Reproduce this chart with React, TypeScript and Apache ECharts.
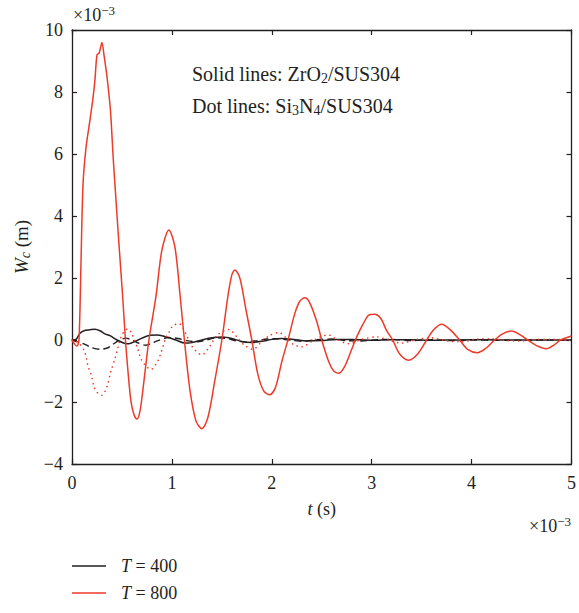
import React, { useEffect, useRef } from "react";
import * as echarts from "echarts";

// Central deflection W_c (×10⁻³ m) against time t (×10⁻³ s)

// T = 400, ZrO2/SUS304 (solid black)
const t400Zr = [0, 0.04, 0.08, 0.12, 0.18, 0.23, 0.28, 0.33, 0.38, 0.45, 0.53, 0.57, 0.63, 0.7, 0.78, 0.85, 0.92, 1.04, 1.13, 1.2, 1.3, 1.4, 1.51, 1.6, 1.7, 1.8, 1.92, 2.0, 2.1, 2.22, 2.35, 2.5, 2.65, 2.8, 3.0, 3.2, 3.4, 3.6, 3.8, 4.0, 4.3, 4.6, 5.0];
const w400Zr = [0, 0.02, 0.22, 0.3, 0.33, 0.35, 0.3, 0.2, 0.14, 0.0, -0.11, -0.12, -0.05, 0.06, 0.15, 0.16, 0.12, 0.0, -0.1, -0.08, 0.0, 0.07, 0.1, 0.05, -0.05, -0.08, -0.03, 0.02, 0.05, 0.02, -0.03, -0.02, 0.02, 0.02, -0.01, 0.01, 0.01, -0.01, 0.0, 0.01, 0.0, 0.0, 0.0];

// T = 400, Si3N4/SUS304 (dashed black)
const t400Si = [0, 0.05, 0.13, 0.2, 0.28, 0.36, 0.41, 0.48, 0.54, 0.6, 0.65, 0.74, 0.8, 0.86, 0.97, 1.06, 1.15, 1.25, 1.35, 1.45, 1.55, 1.65, 1.75, 1.85, 1.95, 2.05, 2.2, 2.3, 2.45, 2.6, 2.75, 2.9, 3.05, 3.2, 3.4, 3.6, 3.8, 4.0, 4.3, 4.6, 5.0];
const w400Si = [0, -0.05, -0.14, -0.25, -0.3, -0.25, -0.14, 0.0, 0.06, 0.0, -0.08, -0.17, -0.1, -0.02, 0.08, 0.05, -0.02, -0.06, 0.0, 0.07, 0.05, -0.03, -0.06, -0.02, 0.03, 0.04, -0.01, -0.04, 0.01, 0.03, -0.02, -0.03, 0.01, 0.02, -0.02, 0.01, -0.02, 0.0, -0.01, 0.0, 0.0];

// T = 800, ZrO2/SUS304 (solid red)
const t800Zr = [0, 0.03, 0.05, 0.07, 0.09, 0.11, 0.14, 0.18, 0.21, 0.23, 0.25, 0.27, 0.28, 0.3, 0.32, 0.35, 0.385, 0.41, 0.43, 0.47, 0.51, 0.535, 0.56, 0.59, 0.62, 0.65, 0.68, 0.71, 0.77, 0.84, 0.9, 0.97, 1.03, 1.08, 1.125, 1.18, 1.24, 1.3, 1.36, 1.43, 1.5, 1.56, 1.6, 1.63, 1.68, 1.74, 1.8, 1.86, 1.92, 1.98, 2.04, 2.1, 2.17, 2.23, 2.28, 2.33, 2.38, 2.45, 2.5, 2.57, 2.62, 2.67, 2.73, 2.8, 2.85, 2.92, 2.97, 3.03, 3.09, 3.15, 3.21, 3.28, 3.37, 3.46, 3.55, 3.62, 3.7, 3.79, 3.88, 3.96, 4.06, 4.15, 4.23, 4.31, 4.4, 4.49, 4.56, 4.65, 4.75, 4.83, 4.89, 5.0];
const w800Zr = [0, -0.15, -0.2, 0, 2.5, 5.0, 6.2, 7.1, 7.8, 8.4, 9.2, 9.25, 9.35, 9.6, 9.2, 8.5, 7.4, 6.0, 5.0, 3.1, 1.26, 0, -1.0, -1.97, -2.4, -2.55, -2.3, -1.6, 0, 1.4, 2.9, 3.55, 3.0, 1.5, 0, -1.6, -2.6, -2.86, -2.5, -1.3, 0, 1.4, 2.1, 2.26, 2.0, 1.0, 0, -1.1, -1.65, -1.77, -1.5, -0.7, 0.1, 0.85, 1.25, 1.36, 1.2, 0.6, 0.0, -0.7, -1.0, -1.07, -0.85, -0.3, 0.1, 0.55, 0.8, 0.83, 0.7, 0.3, 0, -0.45, -0.65, -0.45, 0, 0.33, 0.51, 0.32, 0, -0.3, -0.41, -0.25, 0, 0.2, 0.29, 0.16, 0, -0.18, -0.28, -0.15, 0, 0.13];

// T = 800, Si3N4/SUS304 (dotted red)
const t800Si = [0, 0.07, 0.13, 0.16, 0.19, 0.22, 0.25, 0.3, 0.35, 0.39, 0.43, 0.46, 0.48, 0.51, 0.56, 0.6, 0.66, 0.69, 0.73, 0.79, 0.86, 0.89, 0.94, 0.98, 1.01, 1.07, 1.14, 1.2, 1.3, 1.38, 1.45, 1.57, 1.65, 1.72, 1.81, 1.9, 1.98, 2.07, 2.15, 2.22, 2.3, 2.4, 2.5, 2.57, 2.65, 2.77, 2.9, 3.05, 3.18, 3.3, 3.45, 3.6, 3.75, 3.9, 4.05, 4.2, 4.35, 4.5, 4.65, 4.8, 5.0];
const w800Si = [0, -0.1, -0.41, -0.84, -1.1, -1.5, -1.68, -1.78, -1.5, -1.0, -0.6, -0.25, 0, 0.22, 0.36, 0.2, -0.3, -0.6, -0.8, -0.95, -0.67, -0.42, 0.08, 0.3, 0.46, 0.53, 0.2, -0.2, -0.48, -0.2, 0.15, 0.34, 0.1, -0.15, -0.3, -0.05, 0.15, 0.24, 0.05, -0.15, -0.22, -0.05, 0.12, 0.16, 0.02, -0.12, 0.02, 0.1, -0.02, -0.1, 0.02, 0.07, -0.03, -0.06, 0.03, 0.04, -0.02, -0.03, 0.02, 0.02, -0.01];

const xTicks = [0, 5, 1];
const yTicks = [-4, 10, 2];

const RED = "#ee3a28";
const BLACK = "#231f20";
const SERIF = "'Liberation Serif', 'DejaVu Serif', serif";

const pairs = (t: number[], w: number[]) => t.map((v, i) => [v, w[i]]);
const minusSign = (v: number) => String(v).replace("-", "\u2212");

export default function App() {
  const ref = useRef<HTMLDivElement>(null);

  useEffect(() => {
    if (!ref.current) return;
    const chart = echarts.init(ref.current, null, { renderer: "svg" });

    const axisLine = { show: true, onZero: false, lineStyle: { color: BLACK, width: 1.3 } };
    const axisTick = { show: true, inside: true, length: 5, lineStyle: { color: BLACK, width: 1.2 } };
    const labelStyle = { color: BLACK, fontFamily: SERIF, fontSize: 18 };

    const multiplier = (x: number, y: number) => ({
      type: "text",
      x,
      y,
      style: {
        text: "{a|\u00d710}{s|\u22123}",
        fill: BLACK,
        rich: {
          a: { fontFamily: SERIF, fontSize: 18, fill: BLACK },
          s: { fontFamily: SERIF, fontSize: 13, fill: BLACK, padding: [0, 0, 9, 0] },
        },
      },
    });

    const noteRich = {
      a: { fontFamily: SERIF, fontSize: 20, fill: BLACK },
      s: { fontFamily: SERIF, fontSize: 14, fill: BLACK, padding: [9, 0, 0, 0] },
    };

    chart.setOption({
      animation: false,
      backgroundColor: "#ffffff",
      grid: { left: 72, right: 4, top: 30, bottom: 149 },
      legend: {
        data: ["T = 400", "T = 800"],
        orient: "vertical",
        left: 72,
        top: 557,
        padding: 0,
        itemGap: 9,
        itemWidth: 34,
        itemHeight: 1.4,
        icon: "rect",
        formatter: (name: string) => "{i|T}" + name.slice(1),
        textStyle: {
          color: BLACK,
          fontFamily: SERIF,
          fontSize: 18,
          padding: [0, 0, 0, 10],
          rich: {
            i: { fontStyle: "italic", fontFamily: SERIF, fontSize: 18, color: BLACK },
          },
        },
      },
      xAxis: [
        {
          type: "value",
          min: xTicks[0],
          max: xTicks[1],
          interval: xTicks[2],
          position: "bottom",
          axisLine,
          axisTick,
          splitLine: { show: false },
          axisLabel: { ...labelStyle, margin: 10 },
          name: "{i|t} (s)",
          nameLocation: "middle",
          nameGap: 36,
          nameTextStyle: {
            ...labelStyle,
            rich: { i: { fontStyle: "italic", fontFamily: SERIF, fontSize: 18, color: BLACK } },
          },
        },
        {
          type: "value",
          min: xTicks[0],
          max: xTicks[1],
          interval: xTicks[2],
          position: "top",
          axisLine,
          axisTick,
          splitLine: { show: false },
          axisLabel: { show: false },
        },
      ],
      yAxis: [
        {
          type: "value",
          min: yTicks[0],
          max: yTicks[1],
          interval: yTicks[2],
          position: "left",
          axisLine,
          axisTick,
          splitLine: { show: false },
          axisLabel: { ...labelStyle, margin: 9, formatter: minusSign },
          name: "{w|W}{c|c}{n| (m)}",
          nameLocation: "middle",
          nameRotate: 90,
          nameGap: 36,
          nameTextStyle: {
            ...labelStyle,
            rich: {
              w: { fontStyle: "italic", fontFamily: SERIF, fontSize: 19, color: BLACK },
              c: { fontStyle: "italic", fontFamily: SERIF, fontSize: 14, color: BLACK, padding: [8, 0, 0, 0] },
              n: { fontFamily: SERIF, fontSize: 19, color: BLACK },
            },
          },
        },
        {
          type: "value",
          min: yTicks[0],
          max: yTicks[1],
          interval: yTicks[2],
          position: "right",
          axisLine,
          axisTick,
          splitLine: { show: false },
          axisLabel: { show: false },
        },
      ],
      graphic: [
        multiplier(73, 4),
        multiplier(529, 515),
        {
          type: "text",
          x: 192,
          y: 62,
          style: { text: "{a|Solid lines: ZrO}{s|2}{a|/SUS304}", rich: noteRich },
        },
        {
          type: "text",
          x: 192,
          y: 94,
          style: { text: "{a|Dot lines: Si}{s|3}{a|N}{s|4}{a|/SUS304}", rich: noteRich },
        },
      ],
      series: [
        {
          name: "T = 400 Si",
          type: "line",
          data: pairs(t400Si, w400Si),
          showSymbol: false,
          smooth: 0.3,
          color: BLACK,
          lineStyle: { color: BLACK, width: 1.4, type: [7, 4] },
        },
        {
          name: "T = 400",
          type: "line",
          data: pairs(t400Zr, w400Zr),
          showSymbol: false,
          smooth: 0.3,
          color: BLACK,
          lineStyle: { color: BLACK, width: 1.5 },
        },
        {
          name: "T = 800 Si",
          type: "line",
          data: pairs(t800Si, w800Si),
          showSymbol: false,
          smooth: 0.3,
          color: RED,
          lineStyle: { color: RED, width: 1.6, type: [0.1, 5], cap: "round" },
        },
        {
          name: "T = 800",
          type: "line",
          data: pairs(t800Zr, w800Zr),
          showSymbol: false,
          smooth: 0.3,
          color: RED,
          lineStyle: { color: RED, width: 1.5 },
        },
      ],
    });

    return () => chart.dispose();
  }, []);

  return (
    <div
      ref={ref}
      style={{ position: "absolute", left: 0, top: 0, width: 579, height: 613, background: "#fff" }}
    />
  );
}
